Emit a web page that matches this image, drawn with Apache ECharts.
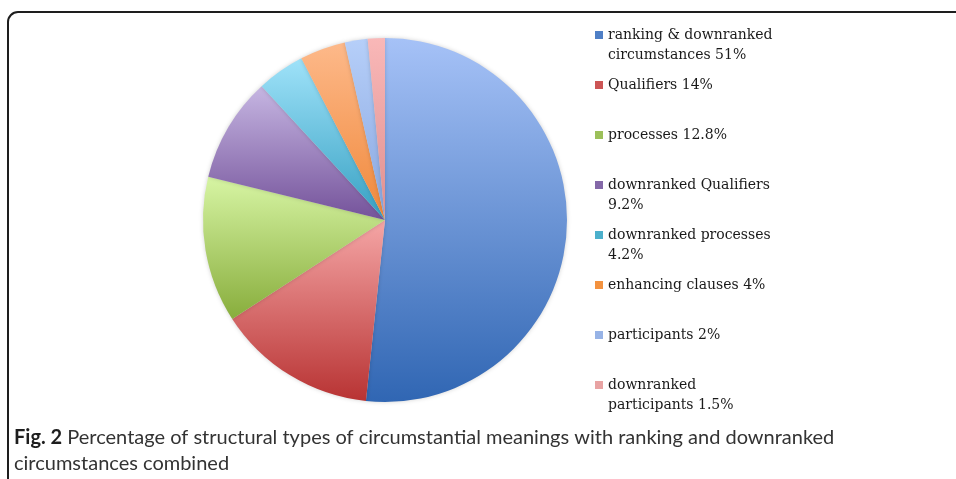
<!DOCTYPE html>
<html>
<head>
<meta charset="utf-8">
<script src="https://cdn.jsdelivr.net/npm/echarts@6/dist/echarts.min.js"></script>
<style>
  html, body { margin: 0; padding: 0; background: #fff; }
  #container { width: 956px; height: 479px; }
</style>
</head>
<body>
<div id="container"></div>
<script>
// structural types of circumstantial meanings
var categories = ['ranking & downranked circumstances', 'Qualifiers', 'processes', 'downranked Qualifiers',
    'downranked processes', 'enhancing clauses', 'participants', 'downranked participants'];
var values = [51, 14, 12.8, 9.2, 4.2, 4, 2, 1.5];
// legend text as it wraps in the figure
var legendLabels = ['ranking & downranked\ncircumstances 51%', 'Qualifiers 14%\n ', 'processes 12.8%\n ',
    'downranked Qualifiers\n9.2%', 'downranked processes\n4.2%', 'enhancing clauses 4%\n ',
    'participants 2%\n ', 'downranked\nparticipants 1.5%'];
// gradient top / bottom colours of each slice, and legend swatch
var topColors = ['#a6c2f7', '#f5a6a6', '#d7f5a4', '#c6b6e2', '#9fe2f9', '#fdb98a', '#b6cff9', '#f9b8b8'];
var bottomColors = ['#3066b3', '#b83333', '#88ad3c', '#74529a', '#36a0c2', '#f0883a', '#88a6df', '#df8f8f'];
var swatchColors = ['#4f7fc6', '#cc5555', '#9cc05a', '#8468a8', '#4cb0cc', '#f3923f', '#97b3e6', '#e8a3a3'];

var myChart = echarts.init(document.getElementById('container'));

var seriesData = categories.map(function (name, i) {
    return {
        name: name,
        value: values[i],
        itemStyle: {
            color: new echarts.graphic.LinearGradient(0, 0, 0, 1, [
                { offset: 0, color: topColors[i] },
                { offset: 1, color: bottomColors[i] }
            ])
        }
    };
});

var option = {
    animation: false,
    legend: {
        orient: 'vertical',
        left: 595,
        top: 25,
        padding: 0,
        itemGap: 10,
        itemWidth: 8,
        itemHeight: 40,
        // square sits at the first text line, the move-tos stretch the box
        icon: 'path://M0,0 M0,40 M0,6 L8,6 L8,14 L0,14 Z',
        data: categories.map(function (name, i) {
            return { name: name, itemStyle: { color: swatchColors[i] } };
        }),
        formatter: function (name) {
            return legendLabels[categories.indexOf(name)];
        },
        textStyle: {
            fontFamily: 'DejaVu Serif',
            fontSize: 14,
            lineHeight: 20,
            color: '#1a1a1a'
        }
    },
    graphic: [
        {
            type: 'rect',
            shape: { x: 8, y: 12, width: 1000, height: 520, r: 10 },
            style: { fill: 'none', stroke: '#1e1e1e', lineWidth: 2 },
            z: 100
        },
        {
            type: 'text',
            left: 14,
            top: 425,
            style: {
                text: '{b|Fig. 2} Percentage of structural types of circumstantial meanings with ranking and downranked\ncircumstances combined',
                fontFamily: 'Lato',
                fontSize: 20,
                lineHeight: 26,
                fill: '#333333',
                rich: {
                    b: { fontFamily: 'Lato', fontSize: 20, fontWeight: 'bold', fill: '#1e1e1e' }
                }
            }
        }
    ],
    series: [
        {
            type: 'pie',
            center: [385, 220],
            radius: 182,
            startAngle: 90,
            clockwise: true,
            label: { show: false },
            labelLine: { show: false },
            emphasis: { disabled: true },
            itemStyle: {
                borderWidth: 0,
                shadowBlur: 4,
                shadowColor: 'rgba(0,0,0,0.18)'
            },
            data: seriesData
        }
    ]
};
myChart.setOption(option);
</script>
</body>
</html>
